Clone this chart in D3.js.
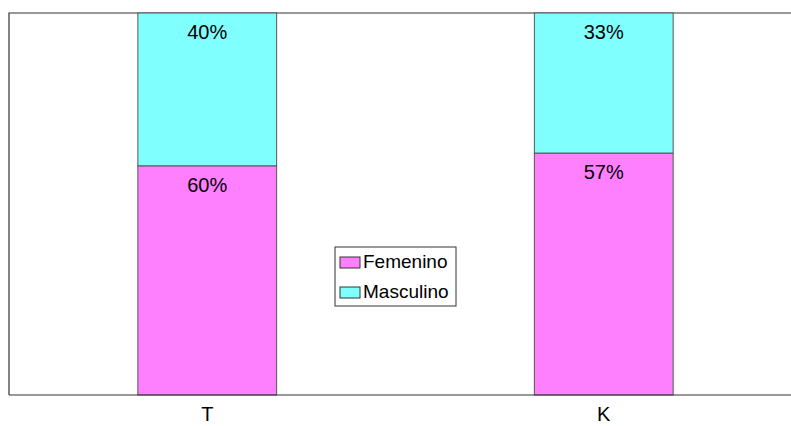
<!DOCTYPE html>
<html>
  <head>
    <style>
    body {
      font-family: "Liberation Sans", Arial, sans-serif;
      margin: 0;
    }
    </style>
  </head>
  <body>
    <script src="https://d3js.org/d3.v7.min.js"></script>
    <script>

var categories = ["T", "K"];
var series = ["Femenino", "Masculino"];
var femenino = [60, 57];
var masculino = [40, 33];
var colors = ["#ff80ff", "#80ffff"];

var width = 791, height = 426;
var plot = {left: 9, top: 13, right: 802, bottom: 395};

var svg = d3.select("body").append("svg")
    .attr("width", width)
    .attr("height", height);

// rows for 100% stacking
var rows = categories.map(function(c, i){
    return {cat: c, Femenino: femenino[i], Masculino: masculino[i]};
});
var stacked = d3.stack().keys(series).offset(d3.stackOffsetExpand)(rows);
var raw = {Femenino: femenino, Masculino: masculino};

var x = d3.scaleBand().domain(categories)
    .range([plot.left, plot.right])
    .paddingInner(0.65).paddingOuter(0.325);

var y = d3.scaleLinear().domain([0, 1]).range([plot.bottom, plot.top]);

// plot frame (left, top)
svg.append("path")
    .attr("d", "M" + plot.left + "," + plot.bottom + "V" + plot.top + "H" + width)
    .style("fill", "none").style("stroke", "#333").style("stroke-width", 1.2);

var groups = svg.selectAll(".serie")
    .data(stacked)
  .enter().append("g")
    .attr("class", "serie")
    .style("fill", function(d, i){ return colors[i]; });

groups.selectAll("rect")
    .data(function(d){ return d; })
  .enter().append("rect")
    .attr("x", function(d){ return x(d.data.cat); })
    .attr("y", function(d){ return y(d[1]); })
    .attr("width", x.bandwidth())
    .attr("height", function(d){ return y(d[0]) - y(d[1]); })
    .style("stroke", "#555")
    .style("stroke-width", 1);

groups.selectAll("text")
    .data(function(d){ return d.map(function(p, i){ return {p: p, v: raw[d.key][i]}; }); })
  .enter().append("text")
    .attr("x", function(d){ return x(d.p.data.cat) + x.bandwidth() / 2; })
    .attr("y", function(d){ return y(d.p[1]) + 26; })
    .attr("text-anchor", "middle")
    .style("fill", "#000")
    .style("font-size", "20px")
    .text(function(d){ return d.v + "%"; });

svg.append("path")
    .attr("d", "M" + plot.left + "," + plot.bottom + "H" + width)
    .style("stroke", "#333").style("stroke-width", 1.2);

svg.selectAll(".cat")
    .data(categories)
  .enter().append("text")
    .attr("class", "cat")
    .attr("x", function(d){ return x(d) + x.bandwidth() / 2; })
    .attr("y", 421)
    .attr("text-anchor", "middle")
    .style("font-size", "20px")
    .text(function(d){ return d; });

// legend
var lg = svg.append("g").attr("transform", "translate(335,247)");
lg.append("rect").attr("width", 121).attr("height", 59)
    .style("fill", "#fff").style("stroke", "#333");
var items = lg.selectAll(".item").data(series)
  .enter().append("g")
    .attr("transform", function(d, i){ return "translate(5," + (10 + i * 30) + ")"; });
items.append("rect").attr("width", 20).attr("height", 11)
    .style("fill", function(d, i){ return colors[i]; })
    .style("stroke", "#333");
items.append("text").attr("x", 23).attr("y", 11)
    .style("font-size", "19px")
    .text(function(d){ return d; });

    </script>
  </body>
</html>
